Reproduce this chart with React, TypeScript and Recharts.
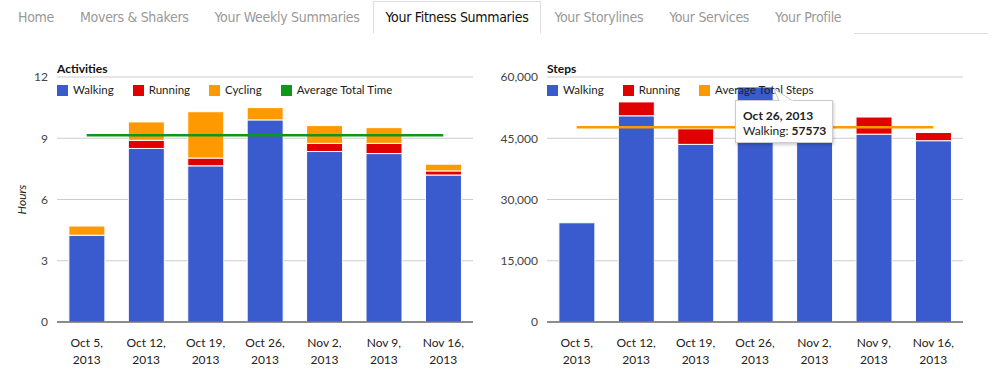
import React from 'react'
import {
  ComposedChart, Bar, Line, XAxis, YAxis, CartesianGrid, Tooltip
} from 'recharts'

const tabs = ['Home', 'Movers & Shakers', 'Your Weekly Summaries', 'Your Fitness Summaries', 'Your Storylines', 'Your Services', 'Your Profile']
const activeTab = 'Your Fitness Summaries'

const weeks = ['Oct 5, 2013', 'Oct 12, 2013', 'Oct 19, 2013', 'Oct 26, 2013', 'Nov 2, 2013', 'Nov 9, 2013', 'Nov 16, 2013']

// hours per week
const walkingHours = [4.25, 8.5, 7.65, 9.9, 8.35, 8.25, 7.2]
const runningHours = [0, 0.4, 0.38, 0, 0.4, 0.5, 0.2]
const cyclingHours = [0.45, 0.9, 2.27, 0.6, 0.87, 0.77, 0.33]
const avgTotalTime = [9.15, 9.15, 9.15, 9.15, 9.15, 9.15, 9.15]
const hourTicks = [0, 3, 6, 9, 12]

// steps per week
const walkingSteps = [24300, 50500, 43500, 57573, 46500, 46000, 44400]
const runningSteps = [0, 3400, 3800, 0, 2500, 4200, 2000]
const avgTotalSteps = [47700, 47700, 47700, 47700, 47700, 47700, 47700]
const stepTicks = [0, 15000, 30000, 45000, 60000]

const BLUE = '#3a5bcd'
const RED = '#e10000'
const ORANGE = '#ff9900'
const GREEN = '#109618'
const FONT = 'Lato, "Open Sans", sans-serif'

const hoursData = weeks.map((w, i) => ({
  week: w,
  walking: walkingHours[i],
  running: runningHours[i],
  cycling: cyclingHours[i],
  avg: avgTotalTime[i]
}))

const stepsData = weeks.map((w, i) => ({
  week: w,
  walking: walkingSteps[i],
  running: runningSteps[i],
  avg: avgTotalSteps[i]
}))

const hoursLegend = [
  { name: 'Walking', color: BLUE },
  { name: 'Running', color: RED },
  { name: 'Cycling', color: ORANGE },
  { name: 'Average Total Time', color: GREEN }
]

const stepsLegend = [
  { name: 'Walking', color: BLUE },
  { name: 'Running', color: RED },
  { name: 'Average Total Steps', color: ORANGE }
]

const WeekTick = (props: any) => {
  const { x, y, payload } = props
  const [a, b] = String(payload.value).split(', ')
  return (
    <text x={x} y={y} textAnchor="middle" fill="#222" fontSize={12} fontFamily={FONT}>
      <tspan x={x} dy={17}>{a + ','}</tspan>
      <tspan x={x} dy={17}>{b}</tspan>
    </text>
  )
}

const HoursLabel = (props: any) => {
  const vb = props.viewBox || { x: 0, y: 37, width: 57, height: 245 }
  const cy = vb.y + vb.height / 2
  return (
    <text x={21} y={cy} transform={`rotate(-90, 21, ${cy})`} textAnchor="middle"
      dominantBaseline="central" fontSize={12} fontStyle="italic" fill="#222" fontFamily={FONT}>
      Hours
    </text>
  )
}

const Legend2 = ({ items, left }: { items: { name: string, color: string }[], left: number }) => (
  <div style={{ position: 'absolute', left, top: 43, display: 'flex', fontFamily: FONT, fontSize: 11.5, color: '#222', lineHeight: '14px' }}>
    {items.map(it => (
      <div key={it.name} style={{ display: 'flex', alignItems: 'center', marginRight: 19 }}>
        <span style={{ width: 11, height: 11, background: it.color, display: 'inline-block', marginRight: 5 }} />
        <span>{it.name}</span>
      </div>
    ))}
  </div>
)

const StepsTip = (props: any) => {
  const { payload, label } = props
  if (!payload || !payload.length) return null
  const w = payload.find((p: any) => p.dataKey === 'walking')
  return (
    <div style={{
      position: 'relative', width: 96, height: 41, background: '#fff', border: '1px solid #ccc',
      boxShadow: '1px 2px 3px rgba(0,0,0,0.2)', fontFamily: FONT, fontSize: 12, color: '#222',
      boxSizing: 'content-box'
    }}>
      <svg width={22} height={14} style={{ position: 'absolute', left: 36, top: -13, overflow: 'visible' }}>
        <polygon points="2,1 7,13 21,13" fill="#fff" stroke="#ccc" />
        <line x1={7} y1={13.5} x2={21} y2={13.5} stroke="#fff" strokeWidth={2} />
      </svg>
      <div style={{ position: 'absolute', left: 7, top: 7, fontWeight: 700, whiteSpace: 'nowrap' }}>{label}</div>
      <div style={{ position: 'absolute', left: 7, top: 22, whiteSpace: 'nowrap' }}>
        Walking: <b>{w ? w.value : ''}</b>
      </div>
    </div>
  )
}

const fmt = (v: number) => v.toLocaleString('en-US')

export default function App() {
  return (
    <div style={{ position: 'absolute', left: 0, top: 0, width: 994, height: 383, background: '#fff', overflow: 'hidden' }}>
      <div style={{
        position: 'absolute', left: 5, top: 0, width: 983, height: 33, borderBottom: '1px solid #ddd',
        display: 'flex', alignItems: 'flex-end'
      }}>
        {tabs.map(t => {
          const on = t === activeTab
          return (
            <div key={t} style={{
              height: 31, lineHeight: '31px', padding: '0 12px', marginBottom: -1,
              fontFamily: '"Liberation Sans Narrow", "DejaVu Sans Condensed", sans-serif', fontSize: 14,
              letterSpacing: '-0.3px',
              color: on ? '#111' : '#999', background: '#fff',
              border: on ? '1px solid #ddd' : '1px solid transparent', borderBottom: on ? '1px solid #fff' : '1px solid transparent'
            }}>{t}</div>
          )
        })}
      </div>

      {/* Activities */}
      <div style={{ position: 'absolute', left: 0, top: 40, width: 490, height: 343 }}>
        <ComposedChart width={490} height={343} data={hoursData} barCategoryGap="20%"
          margin={{ top: 37, right: 17, left: 0, bottom: 0 }}>
          <CartesianGrid vertical={false} stroke="#ccc" />
          <XAxis dataKey="week" height={61} tick={<WeekTick />} tickLine={false} stroke="#333" interval={0} />
          <YAxis width={57} domain={[0, 12]} ticks={hourTicks} axisLine={false} tickLine={false}
            tickSize={0} tickMargin={9} tick={{ fill: '#444', fontSize: 12, fontFamily: FONT }}
            label={<HoursLabel />} />
          <Bar dataKey="walking" stackId="a" fill={BLUE} stroke="#fff" strokeWidth={1} isAnimationActive={false} />
          <Bar dataKey="running" stackId="a" fill={RED} stroke="#fff" strokeWidth={1} isAnimationActive={false} />
          <Bar dataKey="cycling" stackId="a" fill={ORANGE} stroke="#fff" strokeWidth={1} isAnimationActive={false} />
          <Line dataKey="avg" stroke={GREEN} strokeWidth={2.5} dot={false} isAnimationActive={false} />
        </ComposedChart>
        <div style={{ position: 'absolute', left: 57, top: 21, fontFamily: FONT, fontSize: 12, fontWeight: 700, color: '#111' }}>Activities</div>
        <Legend2 items={hoursLegend} left={57} />
      </div>

      {/* Steps */}
      <div style={{ position: 'absolute', left: 490, top: 40, width: 490, height: 343 }}>
        <div style={{ position: 'absolute', left: 0, top: 0 }}>
          <ComposedChart width={490} height={343} data={stepsData} barCategoryGap="20%"
            margin={{ top: 37, right: 17, left: 0, bottom: 0 }}>
            <CartesianGrid vertical={false} stroke="#ccc" />
            <XAxis dataKey="week" height={61} tick={<WeekTick />} tickLine={false} stroke="#333" interval={0} />
            <YAxis width={57} domain={[0, 60000]} ticks={stepTicks} axisLine={false} tickLine={false}
              tickSize={0} tickMargin={9} tickFormatter={fmt} tick={{ fill: '#444', fontSize: 12, fontFamily: FONT }} />
            <Bar dataKey="walking" stackId="s" fill={BLUE} stroke="#fff" strokeWidth={1} isAnimationActive={false}
              activeBar={{ stroke: '#aaa', strokeWidth: 1 }} />
            <Bar dataKey="running" stackId="s" fill={RED} stroke="#fff" strokeWidth={1} isAnimationActive={false} />
            <Line dataKey="avg" stroke={ORANGE} strokeWidth={2.5} dot={false} activeDot={false} isAnimationActive={false} />
          </ComposedChart>
        </div>
        <div style={{ position: 'absolute', left: 57, top: 21, fontFamily: FONT, fontSize: 12, fontWeight: 700, color: '#111' }}>Steps</div>
        <Legend2 items={stepsLegend} left={57} />
        <div style={{ position: 'absolute', left: 0, top: 0, width: 490, height: 343, pointerEvents: 'none' }}>
          <ComposedChart width={490} height={343} data={stepsData}
            margin={{ top: 37, right: 17, left: 0, bottom: 0 }}>
            <XAxis dataKey="week" height={61} hide />
            <YAxis width={57} domain={[0, 60000]} hide />
            <Tooltip defaultIndex={3} active cursor={false} isAnimationActive={false}
              position={{ x: 245, y: 60 }} content={<StepsTip />} />
            <Line dataKey="walking" stroke="none" dot={false} activeDot={false} isAnimationActive={false} />
          </ComposedChart>
        </div>
      </div>
    </div>
  )
}
